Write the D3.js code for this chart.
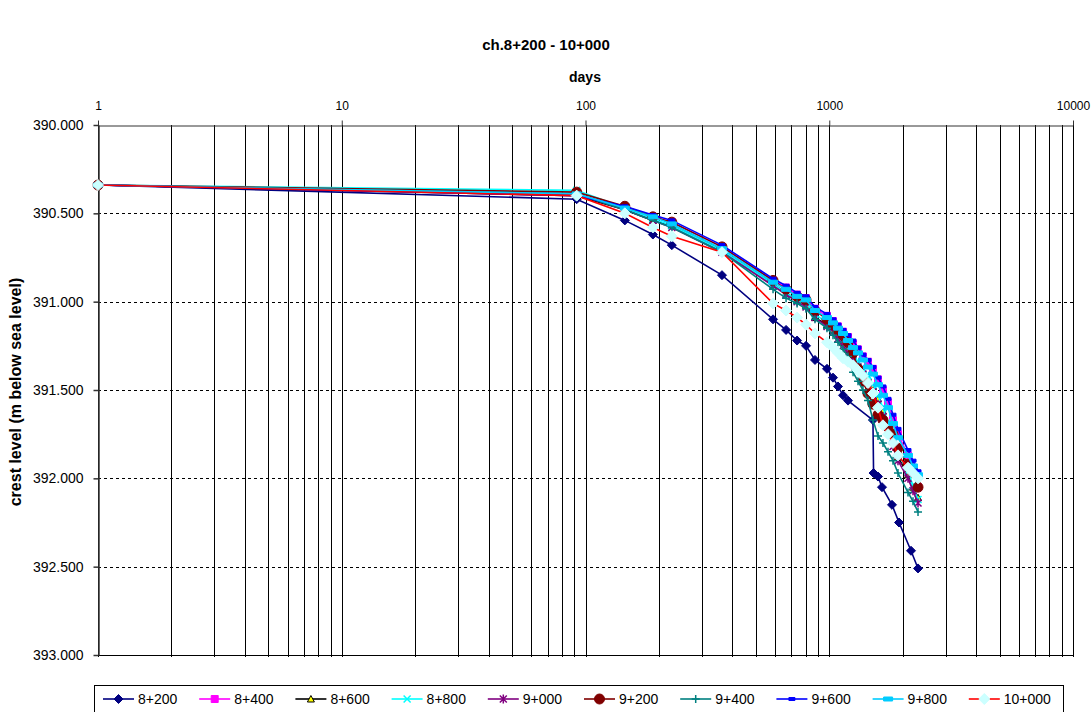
<!DOCTYPE html>
<html>
<head>
<meta charset="utf-8">
<script src="https://cdn.jsdelivr.net/npm/d3@7"></script>
<style>
  body { margin: 0; background: #fff; }
  text { font-family: Arial, "Liberation Sans", sans-serif; fill: #000; }
  .title { font-weight: bold; font-size: 15px; }
  .label { font-weight: bold; font-size: 14px; }
  .ylabel { font-weight: bold; font-size: 16px; }
  .x.axis text { font-size: 12px; }
  .y.axis text { font-size: 14px; }
  .legend text { font-size: 14px; }
</style>
</head>
<body>
<script>
// days of measurement (shared by most chainages)
var days = [1, 92, 145, 189, 226, 363, 588, 665, 738, 803, 874, 979, 1036, 1086, 1139, 1194,
            1252, 1312, 1375, 1442, 1511, 1585, 1661, 1742, 1826, 1914, 2104, 2206, 2313];

// ch. 8+200 has its own dates
var days8200 = [1, 92, 145, 189, 226, 363, 588, 665, 738, 803, 874, 979, 1036, 1086, 1139, 1194,
                1511, 1520, 1585, 1646, 1809, 1933, 2165, 2313];
var vals8200 = [390.34, 390.42, 390.54, 390.62, 390.68, 390.85, 391.10, 391.16, 391.22, 391.25, 391.33, 391.38, 391.43, 391.48, 391.53, 391.56,
                391.67, 391.97, 391.99, 392.05, 392.15, 392.25, 392.41, 392.51];

var vals8400 = [390.34, 390.39, 390.47, 390.52, 390.55, 390.69, 390.88, 390.92, 390.96, 390.98, 391.04, 391.08, 391.11, 391.14, 391.17, 391.20,
                391.24, 391.27, 391.31, 391.34, 391.38, 391.44, 391.50, 391.57, 391.67, 391.75, 391.87, 391.94, 392.05];
var vals8600 = [390.34, 390.40, 390.48, 390.54, 390.57, 390.71, 390.90, 390.95, 390.99, 391.02, 391.09, 391.13, 391.16, 391.19, 391.23, 391.27,
                391.31, 391.35, 391.39, 391.43, 391.48, 391.55, 391.62, 391.70, 391.79, 391.88, 391.98, 392.05, 392.11];
var vals8800 = [390.34, 390.37, 390.47, 390.53, 390.57, 390.71, 390.90, 390.95, 390.99, 391.01, 391.07, 391.12, 391.15, 391.18, 391.22, 391.26,
                391.30, 391.34, 391.38, 391.42, 391.47, 391.53, 391.60, 391.68, 391.77, 391.86, 391.96, 392.04, 392.12];
var vals9000 = [390.34, 390.39, 390.48, 390.54, 390.58, 390.72, 390.91, 390.96, 391.00, 391.03, 391.09, 391.14, 391.17, 391.21, 391.25, 391.29,
                391.33, 391.37, 391.41, 391.46, 391.51, 391.58, 391.65, 391.73, 391.82, 391.90, 392.00, 392.07, 392.14];
var vals9200 = [390.34, 390.38, 390.46, 390.52, 390.55, 390.69, 390.88, 390.93, 390.97, 390.99, 391.05, 391.10, 391.13, 391.16, 391.19, 391.23,
                391.29, 391.38, 391.45, 391.52, 391.58, 391.64, 391.67, 391.71, 391.75, 391.83, 391.92, 391.96, 392.05];
var vals9400 = [390.34, 390.39, 390.48, 390.54, 390.58, 390.72, 390.93, 390.98, 391.01, 391.04, 391.10, 391.15, 391.19, 391.23, 391.27, 391.31,
                391.40, 391.45, 391.50, 391.56, 391.67, 391.76, 391.80, 391.85, 391.90, 391.97, 392.08, 392.13, 392.19];
var vals9600 = [390.34, 390.40, 390.46, 390.51, 390.54, 390.68, 390.87, 390.91, 390.95, 390.97, 391.03, 391.07, 391.10, 391.13, 391.16, 391.19,
                391.22, 391.26, 391.30, 391.33, 391.37, 391.43, 391.48, 391.55, 391.64, 391.72, 391.84, 391.90, 391.96];
var vals9800 = [390.34, 390.39, 390.47, 390.52, 390.56, 390.70, 390.89, 390.93, 390.97, 390.99, 391.05, 391.09, 391.12, 391.15, 391.18, 391.22,
                391.26, 391.29, 391.33, 391.37, 391.41, 391.47, 391.53, 391.60, 391.69, 391.77, 391.87, 391.93, 391.98];
var vals10000 = [390.34, 390.40, 390.50, 390.58, 390.63, 390.72, 391.01, 391.05, 391.09, 391.13, 391.18, 391.23, 391.26, 391.29, 391.32, 391.34,
                 391.36, 391.39, 391.42, 391.46, 391.52, 391.60, 391.70, 391.75, 391.80, 391.87, 391.94, 391.97, 392.00];

var xTicks = [1, 10, 100, 1000, 10000];
var yTicks = [390, 390.5, 391, 391.5, 392, 392.5, 393];

var series = [
  {name: "8+200",  days: days8200, vals: vals8200,  line: "#000080", marker: "diamond",  fill: "#000080", stroke: "#000080"},
  {name: "8+400",  days: days,     vals: vals8400,  line: "#FF00FF", marker: "square",   fill: "#FF00FF", stroke: "#FF00FF"},
  {name: "8+600",  days: days,     vals: vals8600,  line: "#000000", marker: "triangle", fill: "#FFFF00", stroke: "#000000"},
  {name: "8+800",  days: days,     vals: vals8800,  line: "#00FFFF", marker: "x",        fill: "none",    stroke: "#00FFFF"},
  {name: "9+000",  days: days,     vals: vals9000,  line: "#800080", marker: "star",     fill: "none",    stroke: "#800080"},
  {name: "9+200",  days: days,     vals: vals9200,  line: "#800000", marker: "circle",   fill: "#800000", stroke: "#800000"},
  {name: "9+400",  days: days,     vals: vals9400,  line: "#008080", marker: "plus",     fill: "none",    stroke: "#008080"},
  {name: "9+600",  days: days,     vals: vals9600,  line: "#0000FF", marker: "bar",      fill: "#0000FF", stroke: "#0000FF"},
  {name: "9+800",  days: days,     vals: vals9800,  line: "#00CCFF", marker: "wide",     fill: "#00CCFF", stroke: "#00CCFF"},
  {name: "10+000", days: days,     vals: vals10000, line: "#FF0000", marker: "diamondL", fill: "#CCFFFF", stroke: "#CCFFFF"}
];

var markerPath = {
  diamond:  "M0,-4.5L4.5,0L0,4.5L-4.5,0Z",
  diamondL: "M0,-5.5L5.5,0L0,5.5L-5.5,0Z",
  square:   "M-3.5,-3.5H3.5V3.5H-3.5Z",
  triangle: "M0,-3.5L3.5,3L-3.5,3Z",
  x:        "M-3.5,-3.5L3.5,3.5M-3.5,3.5L3.5,-3.5",
  star:     "M-3.5,-3.5L3.5,3.5M-3.5,3.5L3.5,-3.5M0,-4.5V4.5",
  circle:   "M5,0A5,5 0 1,1 -5,0A5,5 0 1,1 5,0Z",
  plus:     "M-4,0H4M0,-4V4",
  bar:      "M-3,-1.5H3V1.5H-3Z",
  wide:     "M-4.5,-2H4.5V2H-4.5Z"
};

var W = 1092, H = 712;
var x = d3.scaleLog().domain([1, 10000]).range([98, 1073]);
var y = d3.scaleLinear().domain([390, 393]).range([125, 655]);

var svg = d3.select("body").append("svg")
    .attr("width", W)
    .attr("height", H);

svg.append("text")
    .attr("class", "title")
    .attr("x", 546)
    .attr("y", 50)
    .style("text-anchor", "middle")
    .text("ch.8+200 - 10+000");

// vertical grid at every 1..9 of each decade
var minor = [];
for (var p = 0; p < 4; p++)
  for (var k = 1; k < 10; k++) minor.push(k * Math.pow(10, p));
minor.push(10000);

svg.append("g").selectAll("line")
    .data(minor)
  .enter().append("line")
    .attr("x1", function(d) { return Math.round(x(d)) + 0.5; })
    .attr("x2", function(d) { return Math.round(x(d)) + 0.5; })
    .attr("y1", 125)
    .attr("y2", 657)
    .attr("stroke", "#000")
    .attr("stroke-width", 1);

// horizontal dashed grid
svg.append("g").selectAll("line")
    .data(yTicks.slice(1, -1))
  .enter().append("line")
    .attr("x1", 98)
    .attr("x2", 1073)
    .attr("y1", function(d) { return Math.round(y(d)) + 0.5; })
    .attr("y2", function(d) { return Math.round(y(d)) + 0.5; })
    .attr("stroke", "#000")
    .attr("stroke-dasharray", "3,3");

// bottom border
svg.append("line")
    .attr("x1", 98).attr("x2", 1073)
    .attr("y1", 655.5).attr("y2", 655.5)
    .attr("stroke", "#000");

var xAxis = d3.axisTop(x)
    .tickValues(xTicks)
    .tickFormat(d3.format("d"))
    .tickSize(5)
    .tickSizeOuter(0)
    .tickPadding(11);

svg.append("g")
    .attr("class", "x axis")
    .attr("transform", "translate(0,125.5)")
    .call(xAxis)
    .call(function(g) { g.selectAll("path, line").attr("stroke", "#333"); });

var yAxis = d3.axisLeft(y)
    .tickValues(yTicks)
    .tickFormat(d3.format(".3f"))
    .tickSize(5)
    .tickSizeOuter(0)
    .tickPadding(10);

svg.append("g")
    .attr("class", "y axis")
    .attr("transform", "translate(98.5,0)")
    .call(yAxis)
    .call(function(g) { g.selectAll("path, line").attr("stroke", "#333").attr("stroke-width", 1.5); });

svg.selectAll(".axis text").style("font-family", "Arial, 'Liberation Sans', sans-serif");

svg.append("text")
    .attr("class", "label")
    .attr("x", 585)
    .attr("y", 82)
    .style("text-anchor", "middle")
    .text("days");

svg.append("text")
    .attr("class", "ylabel")
    .attr("transform", "rotate(-90)")
    .attr("x", -392)
    .attr("y", 21)
    .style("text-anchor", "middle")
    .text("crest level (m below sea level)");

var line = d3.line()
    .x(function(d) { return x(d[0]); })
    .y(function(d) { return y(d[1]); });

function drawMarker(sel, s) {
  sel.append("path")
      .attr("d", markerPath[s.marker])
      .attr("fill", s.fill)
      .attr("stroke", s.stroke)
      .attr("stroke-width", (s.marker === "x" || s.marker === "star" || s.marker === "plus") ? 1.5 : 1);
}

series.forEach(function(s) {
  var pts = s.days.map(function(d, i) { return [d, s.vals[i]]; });
  var g = svg.append("g");
  g.append("path")
      .datum(pts)
      .attr("fill", "none")
      .attr("stroke", s.line)
      .attr("stroke-width", 1.6)
      .attr("d", line);
  g.selectAll("g.pt")
      .data(pts)
    .enter().append("g")
      .attr("class", "pt")
      .attr("transform", function(d) { return "translate(" + x(d[0]) + "," + y(d[1]) + ")"; })
      .each(function() { drawMarker(d3.select(this), s); });
});

// legend
var legend = svg.append("g").attr("class", "legend");
legend.append("rect")
    .attr("x", 94.5).attr("y", 685.5)
    .attr("width", 969).attr("height", 32)
    .attr("fill", "#fff")
    .attr("stroke", "#000");

var item = legend.selectAll("g.item")
    .data(series)
  .enter().append("g")
    .attr("class", "item")
    .attr("transform", function(d, i) { return "translate(" + (103 + i * 96.2) + ",699)"; });

item.append("line")
    .attr("x1", 0).attr("x2", 31)
    .attr("stroke", function(d) { return d.line; })
    .attr("stroke-width", 1.6);

item.append("g")
    .attr("transform", "translate(15.5,0)")
    .each(function(d) { drawMarker(d3.select(this), d); });

item.append("text")
    .attr("x", 35)
    .attr("y", 5)
    .text(function(d) { return d.name; });
</script>
</body>
</html>
